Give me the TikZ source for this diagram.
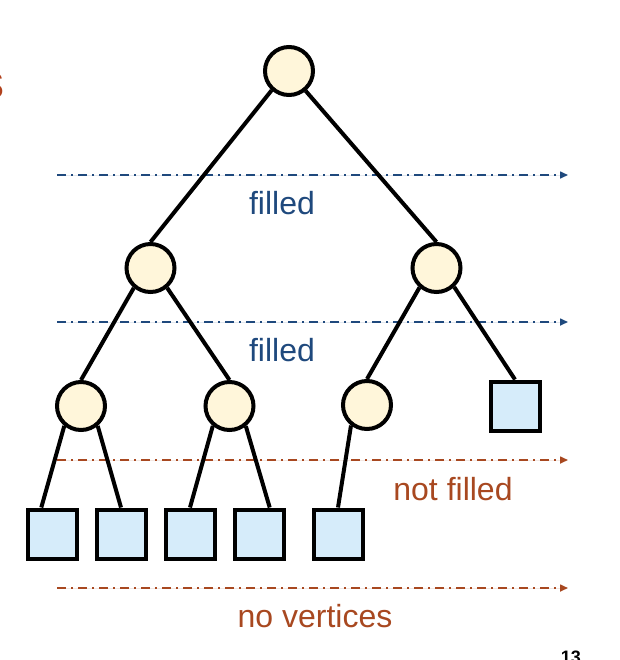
\documentclass[tikz,border=0pt]{standalone}
\usepackage{fontspec}
\setmainfont{Liberation Sans}
\usetikzlibrary{arrows.meta}
\definecolor{levelblue}{RGB}{31,73,125}
\definecolor{levelbrown}{RGB}{168,72,32}
\definecolor{vertexfill}{RGB}{255,246,218}
\definecolor{leaffill}{RGB}{214,236,250}

\tikzset{
  vertex/.style={circle, draw=black, line width=2pt, fill=vertexfill, minimum size=24pt, inner sep=0pt},
  leaf/.style={rectangle, draw=black, line width=2pt, fill=leaffill, minimum size=24.5pt, inner sep=0pt},
  treeedge/.style={line width=2pt},
  levelline/.style={line width=0.8pt, dash pattern=on 4.5pt off 2.5pt on 1pt off 2.5pt, -{Triangle[length=4pt,width=3.5pt]}},
  leveltext/.style={font=\fontsize{16}{19}\selectfont, inner sep=0pt},
}

\begin{document}
\begin{tikzpicture}[x=0.5pt, y=-0.5pt]
\useasboundingbox (0,0) rectangle (620,660);
\clip (0,0) rectangle (620,660);

% level lines
\coordinate (a1) at (57,175);  \coordinate (b1) at (568,175);
\coordinate (a2) at (57,322);  \coordinate (b2) at (568,322);
\coordinate (a3) at (57,460);  \coordinate (b3) at (568,460);
\coordinate (a4) at (57,588);  \coordinate (b4) at (568,588);
\draw[levelline, draw=levelblue, fill=levelblue] (a1) -- (b1);
\draw[levelline, draw=levelblue, fill=levelblue] (a2) -- (b2);
\draw[levelline, draw=levelbrown, fill=levelbrown] (a3) -- (b3);
\draw[levelline, draw=levelbrown, fill=levelbrown] (a4) -- (b4);

\node[leveltext, text=levelblue] (t1) at (282,203) {filled};
\node[leveltext, text=levelblue] (t2) at (282,350) {filled};
\node[leveltext, text=levelbrown] (t3) at (453,489) {not filled};
\node[leveltext, text=levelbrown] (t4) at (315,616) {no vertices};

% tree
\node[vertex] (root) at (289,71) {};
\node[vertex] (l) at (150.5,268) {};
\node[vertex] (r) at (436.5,268) {};
\node[vertex] (ll) at (81,406) {};
\node[vertex] (lr) at (229.5,406) {};
\node[vertex] (rl) at (367,405) {};
\node[leaf] (rr) at (515,406) {};
\node[leaf] (lll) at (52,534) {};
\node[leaf] (llr) at (121,534) {};
\node[leaf] (lrl) at (190,534) {};
\node[leaf] (lrr) at (259,534) {};
\node[leaf] (rll) at (338,534) {};

\draw[treeedge] (root.228) -- (l.north);
\draw[treeedge] (root.310) -- (r.north);
\draw[treeedge] (l.230) -- (ll.north);
\draw[treeedge] (l.310) -- (lr.north);
\draw[treeedge] (r.229) -- (rl.north);
\draw[treeedge] (r.313) -- (rr.north);
\draw[treeedge] (ll.230) -- (lll.112);
\draw[treeedge] (ll.310) -- (llr.north);
\draw[treeedge] (lr.230) -- (lrl.north);
\draw[treeedge] (lr.309) -- (lrr.68);
\draw[treeedge] (rl.232) -- (rll.north);

% slide fragments
\node[font=\fontsize{24}{28}\selectfont, text=levelbrown!90!red, inner sep=0pt, anchor=base east] (title) at (5,98) {s};
\node[font=\bfseries\fontsize{9}{11}\selectfont, inner sep=0pt, anchor=north] (page) at (571,651) {13};
\end{tikzpicture}
\end{document}
